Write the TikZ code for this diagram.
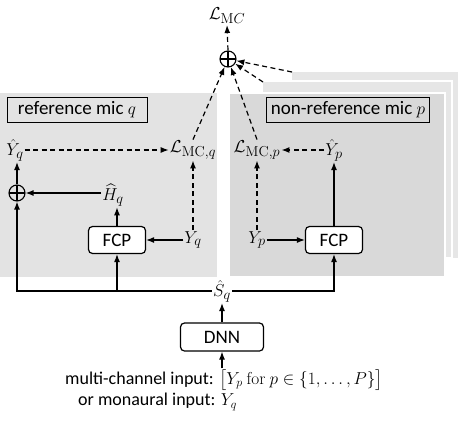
\documentclass[tikz,border=0pt]{standalone}
\usepackage[no-math]{fontspec}
\setmainfont{Carlito}
\usepackage{amsmath}
\usetikzlibrary{arrows.meta,calc}
\definecolor{leftpanel}{HTML}{E3E3E3}
\definecolor{rightpanel}{HTML}{D9D9D9}
\definecolor{backpanel}{HTML}{E6E6E6}
\begin{document}
\begin{tikzpicture}[x=1pt,y=-1pt,
  every node/.style={inner sep=1pt},
  arr/.style={-{Latex[length=8pt,width=6pt]}, line width=1.2pt},
  darr/.style={arr, dash pattern=on 5pt off 3.5pt},
  procbox/.style={draw, rounded corners=4pt, line width=1.2pt, fill=white, minimum height=27pt, inner sep=3pt},
  labbox/.style={draw, line width=1pt, minimum height=25pt, inner sep=2pt},
  osum/.style={circle, draw, line width=1.1pt, minimum size=16pt, inner sep=0pt,
    path picture={\draw[line width=1.1pt] (path picture bounding box.north) -- (path picture bounding box.south)
      (path picture bounding box.west) -- (path picture bounding box.east);}},
  panel/.style={draw=white, line width=2.5pt},
  inputtext/.style={anchor=west, font=\fontsize{18}{21}\selectfont},
  font=\fontsize{19}{22}\selectfont]
\useasboundingbox (0,0) rectangle (463,423);
% panels
\filldraw[panel, fill=backpanel] (291,71) rectangle (459,259);
\filldraw[panel, fill=backpanel] (262,81) rectangle (452,258);
\filldraw[panel, fill=rightpanel] (229,93) rectangle (445,277);
\fill[leftpanel] (0,93) rectangle (217,277);
\coordinate (c3) at (292,72);
\coordinate (c2) at (263,82);
% labels
\node[labbox, minimum width=140pt] (labq) at (77,110) {reference mic $q$};
\node[labbox, minimum width=163pt] (labp) at (348,110) {non-reference mic $p$};
% top
\node (LMC) at (227,16) {$\mathcal{L}_{\mathrm{M}C}$};
\node[osum] (otop) at (228,59) {};
% left panel
\node (Yhq) at (15,150) {$\hat{Y}_q$};
\node (LMCq) at (193,150) {$\mathcal{L}_{\mathrm{MC},q}$};
\node[osum] (oq) at (17,193) {};
\node (Hq) at (113,195) {$\widehat{H}_q$};
\node[procbox, minimum width=57pt] (FCPq) at (117,240) {FCP};
\node (Yq) at (193,240) {$Y_q$};
% right panel
\node (LMCp) at (257,150) {$\mathcal{L}_{\mathrm{MC},p}$};
\node (Yhp) at (334,150) {$\hat{Y}_p$};
\node (Yp) at (257,240) {$Y_p$};
\node[procbox, minimum width=57pt] (FCPp) at (334,240) {FCP};
% bottom
\node (Sq) at (222,291) {$\hat{S}_q$};
\node[procbox, minimum width=83pt, minimum height=28pt] (DNN) at (222,337) {DNN};
\node[inputtext] (in1) at (64,380) {multi-channel input: $\bigl[Y_p\ \mathrm{for}\ p \in \{1, \dots, P\}\bigr]$};
\node[inputtext] (in2) at (77,402) {or monaural input: $Y_q$};
% connectors
\draw[arr] (in1.north -| DNN.south) -- (DNN.south);
\draw[arr] (DNN.north) -- (Sq.south);
\draw[arr] (Sq.west) -| (oq.south);
\draw[arr] (Sq.west) -| (FCPq.south);
\draw[arr] (Sq.east) -| (FCPp.south);
\draw[arr] (oq.north) -- (oq.north |- Yhq.south);
\draw[arr] (Hq.west |- oq) -- (oq.east);
\draw[arr] (FCPq.north) -- (FCPq.north |- Hq.south);
\draw[arr] (Yq.west) -- (FCPq.east);
\draw[darr] (Yq.north) -- (Yq.north |- LMCq.south);
\draw[darr] (Yhq.east) -- (LMCq.west |- Yhq.east);
\draw[arr] (Yp.east) -- (FCPp.west);
\draw[arr] (FCPp.north) -- (FCPp.north |- Yhp.south);
\draw[darr] (Yhp.west) -- (LMCp.east |- Yhp.west);
\draw[darr] (Yp.north) -- (Yp.north |- LMCp.south);
\draw[darr] (LMCq.north) -- (otop);
\draw[darr] (LMCp.north) -- (otop);
\draw[darr] (c2) -- (otop);
\draw[darr] (c3) -- (otop);
\draw[darr] (otop.north) -- (LMC.south);
\end{tikzpicture}
\end{document}
